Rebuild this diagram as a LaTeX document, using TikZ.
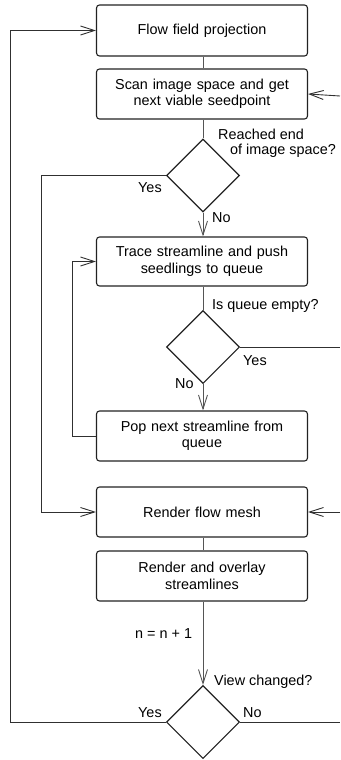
\documentclass[tikz,border=0pt]{standalone}
\usepackage{fontspec}
\setmainfont{Liberation Sans}
\usetikzlibrary{shapes.geometric,arrows.meta}
\definecolor{boxc}{HTML}{222222}
\definecolor{linec}{HTML}{303030}
\definecolor{linkc}{HTML}{555555}
\tikzset{
  stepbox/.style={draw=boxc, line width=1.1pt, rounded corners=3pt, minimum width=211pt, text width=200pt, align=center, inner sep=0pt, font=\fontsize{14.4pt}{16.5pt}\selectfont},
  decision/.style={draw=boxc, line width=1.1pt, diamond, aspect=1, inner sep=0pt, minimum width=73pt, minimum height=73pt},
  flow/.style={draw=linec, line width=0.9pt},
  link/.style={draw=linkc, line width=1pt},
  arr/.style={-{Straight Barb[length=14pt,width=9pt,line width=0.9pt]}},
  lbl/.style={anchor=base west, inner sep=0pt, font=\fontsize{14.4pt}{16.5pt}\selectfont, align=left}
}
\begin{document}
\begin{tikzpicture}[x=1pt,y=-1pt]
\useasboundingbox (0,0) rectangle (340,760);
\node[stepbox, minimum height=51pt] (b1) at (202,30.5) {Flow field projection};
\node[stepbox, minimum height=50pt] (b2) at (202,94) {Scan image space and get\\ next viable seedpoint};
\node[decision] (d1) at (203,175.5) {};
\node[stepbox, minimum height=49pt] (b3) at (202,261.5) {Trace streamline and push\\ seedlings to queue};
\node[decision] (d2) at (203,347) {};
\node[stepbox, minimum height=50pt] (b4) at (202,436) {Pop next streamline from\\ queue};
\node[stepbox, minimum height=50pt] (b5) at (202,512) {Render flow mesh};
\node[stepbox, minimum height=50pt] (b6) at (202,576) {Render and overlay\\ streamlines};
\node[decision] (d3) at (203,722) {};

\coordinate (r1) at (340,96);
\coordinate (r2) at (340,347);
\coordinate (r3) at (340,512);
\coordinate (r4) at (340,722);
\coordinate (l1) at (41,175.5);
\coordinate (l2) at (72,436);
\coordinate (l3) at (10,722);

\draw[link] (b1.south -| d1.north) -- (d1.north |- b2.north);
\draw[link] (b2.south -| d1.north) -- (d1.north);
\draw[link,arr] (d1.south) -- (d1.south |- b3.north);
\draw[link] (b3.south -| d2.north) -- (d2.north);
\draw[link,arr] (d2.south) -- (d2.south |- b4.north);
\draw[link] (b5.south -| d3.north) -- (d3.north |- b6.north);
\draw[link,arr] (b6.south -| d3.north) -- (d3.north);

\draw[flow,arr] (d1.west) -- (l1) |- (b5.west);
\draw[flow,arr] (b4.west) -- (l2) |- (b3.west);
\draw[flow,arr] (d3.west) -- (l3) |- (b1.west);
\draw[flow,arr] (r1) -- (b2.east);
\draw[flow] (d2.east) -- (r2);
\draw[flow,arr] (r3) -- (b5.east);
\draw[flow] (d3.east) -- (r4);

\node[lbl] (t1) at (218,139) {Reached end};
\node[lbl] (t2) at (230,154) {of image space?};
\node[lbl] (t3) at (138,192) {Yes};
\node[lbl] (t4) at (212,222) {No};
\node[lbl] (t5) at (212,309) {Is queue empty?};
\node[lbl] (t6) at (243,365) {Yes};
\node[lbl] (t7) at (175,388) {No};
\node[lbl] (t8) at (135,638) {n = n + 1};
\node[lbl] (t9) at (214,685) {View changed?};
\node[lbl] (t10) at (138,717) {Yes};
\node[lbl] (t11) at (243,717) {No};
\end{tikzpicture}
\end{document}
